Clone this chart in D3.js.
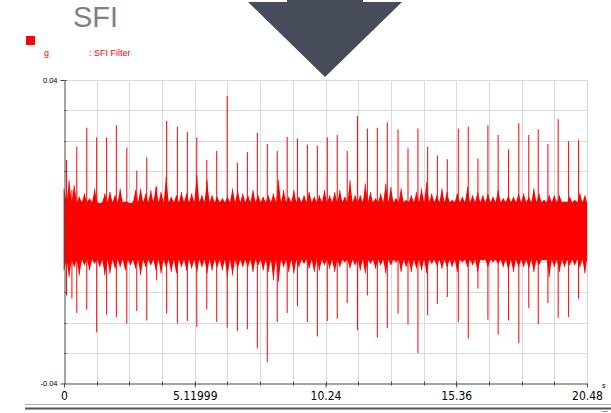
<!DOCTYPE html>
<html>
<head>
<meta charset="utf-8">
<script src="https://cdn.jsdelivr.net/npm/d3@7"></script>
<style>
  html, body { margin: 0; padding: 0; background: #fff; }
  svg { display: block; }
  .narrow { font-family: "Liberation Sans Narrow", "Arial Narrow", "DejaVu Sans Condensed", sans-serif; font-stretch: condensed; }
</style>
</head>
<body>
<svg width="611" height="413"></svg>
<script>
// axis setup
const xTicks = [0, 5.11999, 10.24, 15.36, 20.48];
const xTickLabels = ["0", "5.11999", "10.24", "15.36", "20.48"];
const yTicks = [-0.04, 0.04];
const yTickLabels = ["-0.04", "0.04"];
const xDomain = [0, 20.48];
const yDomain = [-0.04, 0.04];
const xDivisions = 16;
const yDivisions = 10;

// solid part of the noise band (g)
const coreLo = -0.0074;
const coreHi = 0.0078;

// noise fringe peaks, one pair every 0.2 s
const noiseStep = 0.2;
const noiseHi = [
  0.0114, 0.0136, 0.0123, 0.0092, 0.0101, 0.0088, 0.0114, 0.0075, 0.0101, 0.0105,
  0.0096, 0.0114, 0.0079, 0.0075, 0.0110, 0.0114, 0.0101, 0.0110, 0.0118, 0.0105,
  0.0145, 0.0092, 0.0096, 0.0105, 0.0101, 0.0101, 0.0149, 0.0096, 0.0136, 0.0096,
  0.0092, 0.0088, 0.0092, 0.0114, 0.0110, 0.0101, 0.0096, 0.0110, 0.0096, 0.0092,
  0.0096, 0.0101, 0.0136, 0.0110, 0.0092, 0.0110, 0.0092, 0.0096, 0.0105, 0.0092,
  0.0096, 0.0110, 0.0096, 0.0105,
  0.0110, 0.0092, 0.0136, 0.0096, 0.0096, 0.0127, 0.0105, 0.0088, 0.0101, 0.0127,
  0.0118, 0.0088, 0.0114, 0.0084, 0.0096, 0.0105, 0.0114, 0.0132, 0.0101, 0.0096,
  0.0114, 0.0105, 0.0084, 0.0101, 0.0092, 0.0118, 0.0096, 0.0105, 0.0096, 0.0101,
  0.0092, 0.0110, 0.0088, 0.0096, 0.0092, 0.0101, 0.0101, 0.0092, 0.0114, 0.0101,
  0.0084, 0.0096, 0.0096, 0.0096, 0.0079, 0.0092, 0.0084, 0.0101, 0.0096
];
const noiseLo = [
  -0.0102, -0.0119, -0.0093, -0.0115, -0.0088, -0.0102, -0.0084, -0.0093, -0.0115, -0.0110,
  -0.0097, -0.0093, -0.0102, -0.0088, -0.0097, -0.0115, -0.0093, -0.0088, -0.0102, -0.0110,
  -0.0093, -0.0106, -0.0110, -0.0093, -0.0102, -0.0097, -0.0106, -0.0093, -0.0110, -0.0102,
  -0.0093, -0.0102, -0.0119, -0.0115, -0.0097, -0.0093, -0.0093, -0.0106, -0.0088, -0.0102,
  -0.0106, -0.0128, -0.0132, -0.0093, -0.0106, -0.0110, -0.0093, -0.0084, -0.0097, -0.0106,
  -0.0102, -0.0088, -0.0097, -0.0106,
  -0.0093, -0.0080, -0.0097, -0.0088, -0.0102, -0.0110, -0.0084, -0.0097, -0.0088, -0.0110,
  -0.0088, -0.0080, -0.0106, -0.0093, -0.0106, -0.0097, -0.0102, -0.0110, -0.0084, -0.0088,
  -0.0097, -0.0093, -0.0093, -0.0106, -0.0080, -0.0093, -0.0088, -0.0106, -0.0075, -0.0093,
  -0.0080, -0.0084, -0.0093, -0.0102, -0.0106, -0.0093, -0.0093, -0.0097, -0.0106, -0.0088,
  -0.0075, -0.0119, -0.0093, -0.0106, -0.0093, -0.0088, -0.0088, -0.0093, -0.0110
];

// impact spikes: time (s), peak and trough (g)
const spikeT = [
  0.10, 0.31, 0.50, 0.89, 1.28, 1.67, 2.05, 2.46, 2.85, 3.24,
  3.63, 4.02, 4.44, 4.83, 5.20, 5.59, 5.98, 6.39, 6.79, 7.18,
  7.57, 7.96, 8.35, 8.74, 9.14, 9.53, 9.92, 10.31, 10.70, 11.09,
  11.49, 11.88, 12.27, 12.66, 13.08, 13.47, 13.86, 14.24, 14.62, 15.01,
  15.44, 15.83, 16.21, 16.60, 17.00, 17.41, 17.81, 18.20, 18.57, 18.95,
  19.35, 19.76, 20.15
];
const spikeHi = [
  0.0189, 0.0110, 0.0224, 0.0274, 0.0249, 0.0249, 0.0281, 0.0222, 0.0161, 0.0196,
  0.0120, 0.0292, 0.0277, 0.0263, 0.0249, 0.0189, 0.0213, 0.0358, 0.0182, 0.0210,
  0.0261, 0.0231, 0.0213, 0.0250, 0.0246, 0.0230, 0.0227, 0.0249, 0.0255, 0.0213,
  0.0305, 0.0272, 0.0274, 0.0288, 0.0270, 0.0220, 0.0272, 0.0224, 0.0201, 0.0191,
  0.0272, 0.0277, 0.0193, 0.0281, 0.0255, 0.0217, 0.0286, 0.0255, 0.0270, 0.0231,
  0.0297, 0.0239, 0.0243
];
const spikeLo = [
  -0.0168, -0.0176, -0.0214, -0.0205, -0.0265, -0.0219, -0.0225, -0.0242, -0.0209, -0.0234,
  -0.0128, -0.0216, -0.0242, -0.0235, -0.0251, -0.0205, -0.0238, -0.0253, -0.0262, -0.0257,
  -0.0308, -0.0344, -0.0238, -0.0214, -0.0197, -0.0238, -0.0276, -0.0235, -0.0229, -0.0188,
  -0.0260, -0.0168, -0.0279, -0.0254, -0.0216, -0.0245, -0.0320, -0.0220, -0.0190, -0.0172,
  -0.0238, -0.0282, -0.0150, -0.0232, -0.0271, -0.0234, -0.0294, -0.0201, -0.0244, -0.0188,
  -0.0227, -0.0225, -0.0177
];

const red = "#ff0000";
const gridColor = "#dadada";
const axisColor = "#4a4a4a";

const svg = d3.select("svg");

const x = d3.scaleLinear().domain(xDomain).range([64, 587]);
const y = d3.scaleLinear().domain(yDomain).range([383.5, 80]);

// header decoration: big arrow
svg.append("polygon")
    .attr("points", "287,0 363,0 363,2 402,2 325,77 248,2 287,2")
    .attr("fill", "#474c5a");

// title
svg.append("text")
    .attr("x", 73)
    .attr("y", 27)
    .attr("font-family", "'Liberation Sans', Arial, sans-serif")
    .attr("font-size", 29)
    .attr("fill", "#7f7f7f")
    .text("SFI");

// legend
svg.append("rect")
    .attr("x", 26).attr("y", 36)
    .attr("width", 9).attr("height", 9)
    .attr("fill", red);
svg.append("text")
    .attr("x", 44).attr("y", 56)
    .attr("font-family", "'Liberation Sans', Arial, sans-serif")
    .attr("font-size", 9)
    .attr("fill", red)
    .text("g");
svg.append("text")
    .attr("x", 89).attr("y", 56)
    .attr("font-family", "'Liberation Sans', Arial, sans-serif")
    .attr("font-size", 9)
    .attr("fill", red)
    .text(": SFI Filter");

// grid
const xGrid = d3.range(1, xDivisions + 1).map(i => xDomain[0] + i * (xDomain[1] - xDomain[0]) / xDivisions);
const yGrid = d3.range(1, yDivisions + 1).map(i => yDomain[0] + i * (yDomain[1] - yDomain[0]) / yDivisions);

const grid = svg.append("g").attr("stroke", gridColor).attr("stroke-width", 1);
grid.selectAll(".gx")
    .data(xGrid)
    .enter().append("line")
    .attr("x1", d => Math.round(x(d)) + 0.5)
    .attr("x2", d => Math.round(x(d)) + 0.5)
    .attr("y1", y(yDomain[1]))
    .attr("y2", y(yDomain[0]));
grid.selectAll(".gy")
    .data(yGrid)
    .enter().append("line")
    .attr("x1", x(xDomain[0]))
    .attr("x2", x(xDomain[1]))
    .attr("y1", d => Math.round(y(d)) + 0.5)
    .attr("y2", d => Math.round(y(d)) + 0.5);

// signal: band = fringe peaks at the samples, solid level between them
const plot = svg.append("g");

const bandPts = [];
noiseHi.forEach((hi, i) => {
    const t = i * noiseStep;
    bandPts.push({ t: t, hi: hi, lo: noiseLo[i] });
    if (i < noiseHi.length - 1) bandPts.push({ t: t + noiseStep / 2, hi: coreHi, lo: coreLo });
});
bandPts.push({ t: xDomain[1], hi: coreHi, lo: coreLo });

const band = d3.area()
    .x(d => x(d.t))
    .y0(d => y(d.lo))
    .y1(d => y(d.hi))
    .curve(d3.curveLinear);

plot.append("path")
    .datum(bandPts)
    .attr("d", band)
    .attr("fill", red);

// fine hairs on the sample points
plot.selectAll(".hair")
    .data(bandPts.filter((d, i) => i % 2 === 0))
    .enter().append("line")
    .attr("class", "hair")
    .attr("x1", d => x(d.t))
    .attr("x2", d => x(d.t))
    .attr("y1", d => y(d.hi))
    .attr("y2", d => y(d.lo))
    .attr("stroke", red)
    .attr("stroke-width", 0.8);

const spikes = spikeT.map((t, i) => ({ t: t, hi: spikeHi[i], lo: spikeLo[i] }));

plot.selectAll(".spike")
    .data(spikes)
    .enter().append("line")
    .attr("class", "spike")
    .attr("x1", d => x(d.t))
    .attr("x2", d => x(d.t))
    .attr("y1", d => y(d.hi))
    .attr("y2", d => y(d.lo))
    .attr("stroke", red)
    .attr("stroke-width", 1);

// axes
const yAxis = d3.axisLeft(y)
    .tickValues(yTicks)
    .tickFormat((d, i) => yTickLabels[i])
    .tickSize(4)
    .tickSizeOuter(0);

const gy = svg.append("g")
    .attr("transform", "translate(64.5,0)")
    .call(yAxis);
gy.select(".domain").attr("stroke", axisColor);
gy.selectAll(".tick line").attr("stroke", axisColor);
gy.selectAll(".tick text")
    .attr("font-family", "'Liberation Sans', Arial, sans-serif")
    .attr("font-size", 7.5)
    .attr("fill", "#000")
    .attr("x", -7);

// small inner ticks on the value axis
gy.selectAll(".minor")
    .data(yGrid)
    .enter().append("line")
    .attr("x1", 0).attr("x2", 2)
    .attr("y1", d => Math.round(y(d)) + 0.5)
    .attr("y2", d => Math.round(y(d)) + 0.5)
    .attr("stroke", axisColor);

const xAxis = d3.axisBottom(x)
    .tickValues(xTicks)
    .tickFormat((d, i) => xTickLabels[i])
    .tickSize(4)
    .tickSizeOuter(0);

const gx = svg.append("g")
    .attr("transform", "translate(0,383.5)")
    .call(xAxis);
gx.select(".domain").attr("stroke", axisColor);
gx.selectAll(".tick line").attr("stroke", axisColor);
gx.selectAll(".tick text")
    .attr("class", "narrow")
    .attr("font-size", 12)
    .attr("fill", "#000")
    .attr("y", 8);

gx.selectAll(".minor")
    .data(xGrid.slice(0, -1))
    .enter().append("line")
    .attr("x1", d => Math.round(x(d)) + 0.5)
    .attr("x2", d => Math.round(x(d)) + 0.5)
    .attr("y1", -2).attr("y2", 2)
    .attr("stroke", axisColor);

// unit
svg.append("text")
    .attr("x", 602).attr("y", 388)
    .attr("font-family", "'Liberation Sans', Arial, sans-serif")
    .attr("font-size", 7)
    .attr("fill", "#000")
    .text("s");

// bottom rule
svg.append("line")
    .attr("x1", 25).attr("x2", 611)
    .attr("y1", 404.5).attr("y2", 404.5)
    .attr("stroke", "#b0b0b0");
svg.append("line")
    .attr("x1", 25).attr("x2", 611)
    .attr("y1", 408.5).attr("y2", 408.5)
    .attr("stroke", "#555")
    .attr("stroke-width", 2);
svg.append("line")
    .attr("x1", 602).attr("x2", 608)
    .attr("y1", 411.5).attr("y2", 411.5)
    .attr("stroke", "#999");
</script>
</body>
</html>
